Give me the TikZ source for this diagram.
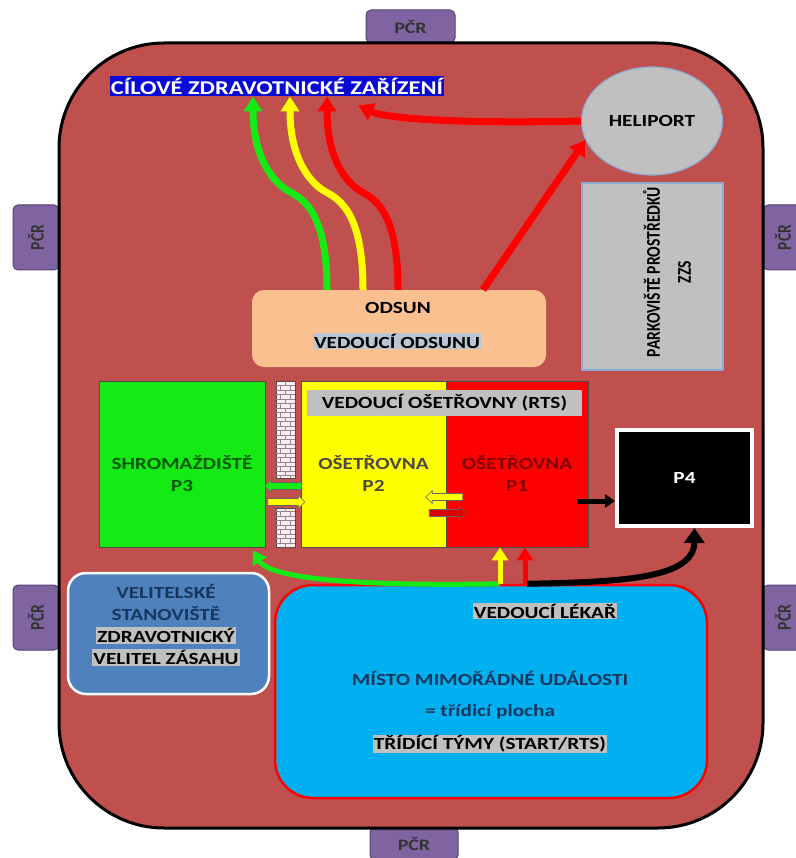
\documentclass[tikz,border=0pt]{standalone}
\usepackage{fontspec}
\setmainfont{Carlito}[FakeStretch=1.25]
\newfontfamily\sidefont{Carlito}[FakeStretch=0.8]
\usetikzlibrary{arrows.meta,shapes.geometric,shapes.arrows,calc}

\definecolor{zone}{RGB}{192,80,77}
\definecolor{pcrfill}{RGB}{128,100,162}
\definecolor{pcrline}{RGB}{85,65,115}
\definecolor{titleblue}{RGB}{10,10,215}
\definecolor{heligray}{RGB}{192,192,192}
\definecolor{heliline}{RGB}{140,170,210}
\definecolor{peach}{RGB}{250,192,144}
\definecolor{hl}{RGB}{192,192,192}
\definecolor{hlblue}{RGB}{186,198,212}
\definecolor{pgreen}{RGB}{20,235,20}
\definecolor{pyellow}{RGB}{255,255,0}
\definecolor{pred}{RGB}{255,0,0}
\definecolor{navy}{RGB}{23,55,94}
\definecolor{cmdblue}{RGB}{79,129,189}
\definecolor{skyblue}{RGB}{0,176,240}
\definecolor{brickpink}{RGB}{250,238,242}
\definecolor{mortar}{RGB}{150,130,135}

\setlength{\fboxsep}{1pt}
\newcommand{\lbl}{\bfseries\fontsize{17}{22}\selectfont}

\begin{document}
\begin{tikzpicture}[x=1pt,y=-1pt,
  pcr/.style={draw=pcrline,fill=pcrfill,rounded corners=5pt,line width=1pt,
    font=\bfseries\fontsize{16}{18}\selectfont,text=black!80,inner sep=0pt},
  pcrside/.style={pcr,rotate=90,minimum width=65pt,
    font=\sidefont\bfseries\fontsize{19.5}{20}\selectfont},
  room/.style={draw=black!70,line width=0.8pt,inner sep=0pt},
  flow/.style={line width=7pt,-{Triangle[length=15pt,width=18pt]}},
  feed/.style={line width=5pt,-{Triangle[length=13pt,width=16pt]}},
  pass/.style={single arrow,draw=black!60,line width=0.6pt,minimum height=37pt,
    inner xsep=0pt,inner ysep=3.2pt,single arrow head extend=3pt},
  brick/.style={draw=mortar,line width=0.4pt},
  tag/.style={fill=hl,inner sep=1pt}]
\useasboundingbox (0,0) rectangle (795,858);

%police posts
\node[pcr,minimum width=89pt,minimum height=33pt] (pcrtop) at (410.5,26.5) {PČR};
\node[pcr,minimum width=88pt,minimum height=33pt] (pcrbot) at (414,843.5) {PČR};
\node[pcrside,minimum height=46pt] (pcrlu) at (36,237.5) {PČR};
\node[pcrside,minimum height=46pt] (pcrll) at (36,617.5) {PČR};
\node[pcrside,minimum height=40pt] (pcrru) at (783,237.5) {PČR};
\node[pcrside,minimum height=40pt] (pcrrl) at (783,617.5) {PČR};

%zone
\draw[fill=zone,line width=3pt,rounded corners=105pt] (59,43) rectangle (763,828);

%destination, heliport, parking
\node[fill=titleblue,text=white,font=\bfseries\fontsize{19.5}{22}\selectfont,inner xsep=1pt,inner ysep=2pt] (dest) at (277,86) {CÍLOVÉ ZDRAVOTNICKÉ ZAŘÍZENÍ};
\node[ellipse,draw=heliline,fill=heligray,line width=1.2pt,minimum width=141pt,minimum height=108pt,font=\lbl,inner sep=0pt] (heli) at (652,121) {HELIPORT};
\node[draw=heliline,fill=heligray,line width=1.2pt,minimum width=141pt,minimum height=187pt] (park) at (652.5,276.5) {};
\node[rotate=90,font=\sidefont\bfseries\fontsize{19.5}{31}\selectfont,align=center] (parktxt) at (667,272) {PARKOVIŠTĚ PROSTŘEDKŮ\\ZZS};

%odsun
\node[fill=peach,rounded corners=12pt,minimum width=294pt,minimum height=77pt] (odsun) at (399,328.5) {};
\node[font=\lbl] (odsuntxt) at (398,308) {ODSUN};
\node[font=\lbl,fill=hlblue,inner sep=1pt] (odsunvd) at (397,341) {VEDOUCÍ ODSUNU};

%rooms
\node[room,fill=pgreen,minimum width=166pt,minimum height=166pt] (p3) at (182,464) {};
\node[room,fill=pyellow,minimum width=145pt,minimum height=166pt] (p2) at (373.5,464) {};
\node[room,fill=pred,minimum width=142pt,minimum height=166pt] (p1) at (517,464) {};
\node[tag,font=\lbl,minimum width=275pt,minimum height=26pt] (rts) at (444.5,403) {VEDOUCÍ OŠETŘOVNY (RTS)};
\node[font=\lbl,text=green!35!black,align=center] (p3txt) at ([yshift=-10pt]p3.center) {SHROMAŽDIŠTĚ\\P3};
\node[font=\lbl,text=black!80!yellow,align=center] (p2txt) at ([yshift=-10pt]p2.center) {OŠETŘOVNA\\P2};
\node[font=\lbl,text=red!50!black,align=center] (p1txt) at ([yshift=-10pt]p1.center) {OŠETŘOVNA\\P1};

%wall
\node[room,fill=brickpink,minimum width=19pt,minimum height=97pt] (wallup) at (285.5,429.5) {};
\node[room,fill=brickpink,minimum width=19pt,minimum height=39pt] (walldn) at (285.5,527.5) {};
\begin{scope}
\clip (276,381) rectangle (295,478) (276,508) rectangle (295,547);
\foreach \y in {381,390,...,545} {
  \draw[brick] (276,\y+4.5) -- (295,\y+4.5) (276,\y+9) -- (295,\y+9);
  \draw[brick] (285.5,\y) -- (285.5,\y+4.5) (280.5,\y+4.5) -- (280.5,\y+9) (290.5,\y+4.5) -- (290.5,\y+9);
}
\end{scope}

%passes between rooms
\node[pass,fill=pgreen,shape border rotate=180] (garr) at (285,486) {};
\node[pass,fill=pyellow] (yarr) at (284.5,502) {};
\node[pass,fill=pyellow,shape border rotate=180] (yarr2) at (446,497) {};
\node[pass,fill=red!85!black] (rarr) at (446,513) {};

%p4
\node[fill=black,draw=white,line width=4pt,minimum width=135pt,minimum height=96pt,text=white,font=\lbl] (p4) at (684.5,478) {P4};
\draw[line width=5pt,-{Triangle[length=10pt,width=13pt]}] ($(p1.east)+(-11,37)$) -- ($(p4.west)+(0,23)$);

%command post
\node[fill=cmdblue,draw=white,line width=2.5pt,rounded corners=18pt,minimum width=201pt,minimum height=121pt] (velit) at (168.5,633.5) {};
\node[font=\lbl,text=navy,align=center] (velittxt) at (166,625) {VELITELSKÉ\\STANOVIŠTĚ\\\colorbox{hl}{\color{black}ZDRAVOTNICKÝ}\\\colorbox{hl}{\color{black}VELITEL ZÁSAHU}};

%incident site
\node[fill=skyblue,draw=pred,line width=2.5pt,rounded corners=38pt,minimum width=432pt,minimum height=213pt] (misto) at (491,691.5) {};
\node[tag,font=\lbl] (lekar) at (545,611) {VEDOUCÍ LÉKAŘ};
\node[font=\lbl,text=navy] (misttxt) at (490,678) {MÍSTO MIMOŘÁDNÉ UDÁLOSTI};
\node[font=\lbl,text=navy] (plocha) at (490,712) {= třídicí plocha};
\node[tag,font=\lbl] (tymy) at (490,744) {TŘÍDÍCÍ TÝMY (START/RTS)};

%transport to destination
\draw[flow,pgreen] ($(odsun.north)+(-72,0)$) .. controls (327,215) and (305,200) .. (290,192) .. controls (275,184) and (253,160) .. ($(dest.south)+(-24,0)$);
\draw[flow,pyellow] ($(odsun.north)+(-36,0)$) .. controls (363,215) and (341,200) .. (326,192) .. controls (311,184) and (290,160) .. ($(dest.south)+(13,0)$);
\draw[flow,pred] ($(odsun.north)+(-1,0)$) .. controls (398,215) and (377,200) .. (362,192) .. controls (347,184) and (327,160) .. ($(dest.south)+(50,0)$);
\draw[flow,pred] (heli.west) .. controls (450,124) and (385,118) .. ($(dest.south east)+(-86,9)$);
\draw[flow,pred] ($(odsun.north)+(84,0)$) -- (heli.196);

%from incident site
\draw[feed,pgreen] ($(misto.north)+(9,0)$) .. controls (390,586) and (272,582) .. ($(p3.south)+(71,3)$);
\draw[feed,pyellow] ($(misto.north)+(9,0)$) -- ($(p1.south)+(-17,0)$);
\draw[feed,pred] ($(misto.north)+(34,0)$) -- ($(p1.south)+(8,0)$);
\draw[line width=6pt,-{Triangle[length=15pt,width=20pt]}] ($(misto.north)+(36,0)$) .. controls (625,582) and (694,578) .. ($(p4.south)+(10,0)$);
\end{tikzpicture}
\end{document}
